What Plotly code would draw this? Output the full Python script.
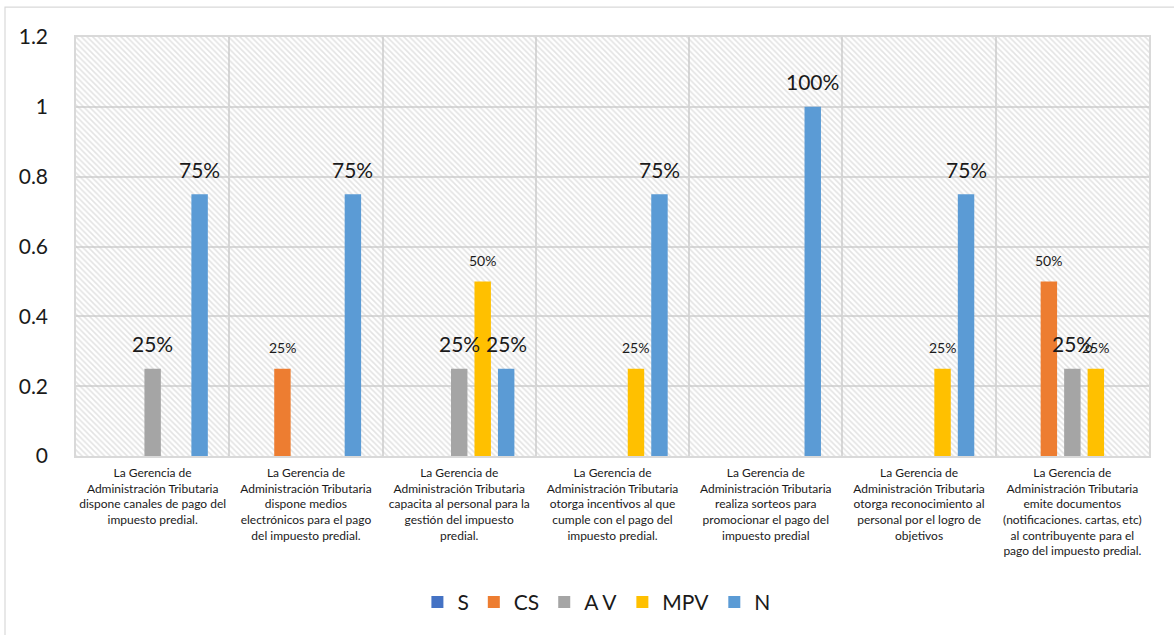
import plotly.graph_objects as go

# ---- data -------------------------------------------------------------
categories = [
    "La Gerencia de<br>Administración Tributaria<br>dispone canales de pago del<br>impuesto predial.",
    "La Gerencia de<br>Administración Tributaria<br>dispone medios<br>electrónicos para el pago<br>del impuesto predial.",
    "La Gerencia de<br>Administración Tributaria<br>capacita al personal para la<br>gestión del impuesto<br>predial.",
    "La Gerencia de<br>Administración Tributaria<br>otorga incentivos al que<br>cumple con el pago del<br>impuesto predial.",
    "La Gerencia de<br>Administración Tributaria<br>realiza sorteos para<br>promocionar el pago del<br>impuesto predial",
    "La Gerencia de<br>Administración Tributaria<br>otorga reconocimiento al<br>personal por el logro de<br>objetivos",
    "La Gerencia de<br>Administración Tributaria<br>emite documentos<br>(notificaciones. cartas, etc)<br>al contribuyente para el<br>pago del impuesto predial.",
]
series_names = ["S", "CS", "A V", "MPV", "N"]
S = [0, 0, 0, 0, 0, 0, 0]
CS = [0, 0.25, 0, 0, 0, 0, 0.5]
AV = [0.25, 0, 0.25, 0, 0, 0, 0.25]
MPV = [0, 0, 0.5, 0.25, 0, 0.25, 0.25]
N = [0.75, 0.75, 0.25, 0.75, 1.0, 0.75, 0]
y_ticks = [0, 0.2, 0.4, 0.6, 0.8, 1.0, 1.2]
y_tick_text = ["0", "0.2", "0.4", "0.6", "0.8", "1", "1.2"]

# ---- styling ----------------------------------------------------------
colors = ["#4472C4", "#ED7D31", "#A5A5A5", "#FFC000", "#5B9BD5"]
label_sizes = [14, 14, 21, 14, 21]
label_lift = [21, 21, 25, 21, 25]
FONT = "Lato, 'Open Sans', sans-serif"
TEXT = "#1a1a1a"
GRID = "#d9d9d9"

W, H = 1174, 635
M = dict(l=76, r=25, t=37, b=177)
plot_w = W - M["l"] - M["r"]
plot_h = H - M["t"] - M["b"]
BARGAP = 0.234
BARGROUPGAP = 0.30
slot_px = plot_w / len(categories) * (1 - BARGAP) / len(series_names)

fig = go.Figure()

# hatched plot-area background on the base axes
fig.add_trace(go.Scatter(
    x=[0, 1, 1, 0, 0], y=[0, 0, 1, 1, 0],
    mode="none", fill="toself", fillcolor="rgba(0,0,0,0)",
    fillpattern=dict(shape="\\", fgcolor="#c8c8c8", bgcolor="rgba(0,0,0,0)",
                     size=4, solidity=0.4),
    hoverinfo="skip", showlegend=False, xaxis="x", yaxis="y",
))

all_series = [S, CS, AV, MPV, N]
for i, (name, vals) in enumerate(zip(series_names, all_series)):
    fig.add_trace(go.Bar(
        name=name, x=categories, y=vals, marker_color=colors[i],
        marker_line_width=0, xaxis="x2", yaxis="y2",
    ))
    for j, v in enumerate(vals):
        if v > 0:
            fig.add_annotation(
                x=categories[j], y=v, xref="x2", yref="y2",
                text=f"{v:.0%}", showarrow=False,
                xshift=(i - (len(series_names) - 1) / 2) * slot_px,
                yshift=label_lift[i], yanchor="middle",
                font=dict(family=FONT, size=label_sizes[i], color=TEXT),
            )

# outer chart frame
fig.add_shape(
    type="rect", xref="paper", yref="paper",
    x0=(5 - M["l"]) / plot_w, x1=1.06,
    y0=-0.6, y1=1 + (M["t"] - 7) / plot_h,
    line=dict(color=GRID, width=1.2), fillcolor="rgba(0,0,0,0)", layer="below",
)

fig.update_layout(
    width=W, height=H, margin=M,
    paper_bgcolor="white", plot_bgcolor="white",
    barmode="group", bargap=BARGAP, bargroupgap=BARGROUPGAP,
    font=dict(family=FONT, color=TEXT),
    xaxis=dict(range=[0, 1], visible=False, fixedrange=True),
    yaxis=dict(range=[0, 1], visible=False, fixedrange=True),
    xaxis2=dict(
        overlaying="x", anchor="y2", type="category",
        tickson="boundaries", showgrid=True, gridcolor=GRID, gridwidth=1.5,
        showline=True, linecolor=GRID, linewidth=1.5, mirror=True,
        ticks="", ticklabelstandoff=5, tickangle=0,
        tickfont=dict(family=FONT, size=12, color=TEXT),
    ),
    yaxis2=dict(
        overlaying="y", anchor="x2", range=[0, 1.2],
        tickvals=y_ticks, ticktext=y_tick_text,
        showgrid=True, gridcolor=GRID, gridwidth=1.5,
        showline=True, linecolor=GRID, linewidth=1.5, mirror=True,
        zeroline=False, ticks="", ticklabelstandoff=22,
        tickfont=dict(family=FONT, size=21, color=TEXT),
    ),
    legend=dict(
        orientation="h", x=0.485, xanchor="center", y=-0.349, yanchor="middle",
        font=dict(family=FONT, size=21, color=TEXT), traceorder="normal",
    ),
    showlegend=True,
)

fig.write_html("out.html")
